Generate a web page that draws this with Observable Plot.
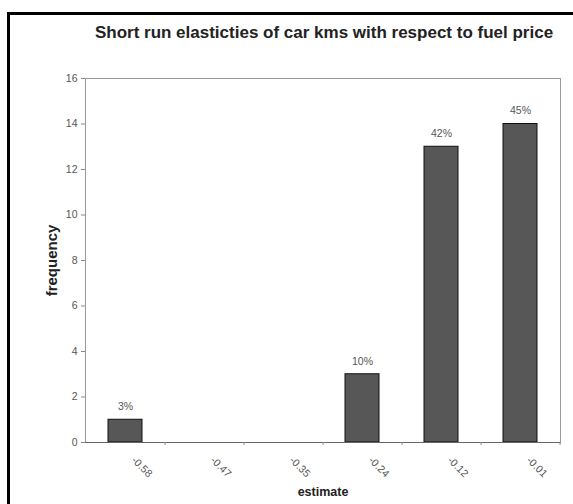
<!DOCTYPE html>
<html>
<head>
<meta charset="utf-8">
<script src="https://cdn.jsdelivr.net/npm/d3@7"></script>
<script src="https://cdn.jsdelivr.net/npm/@observablehq/plot@0.6"></script>
<style>
  html, body { margin: 0; padding: 0; background: #fff; }
  #wrap { position: relative; width: 573px; height: 504px; overflow: hidden; font-family: "Liberation Sans", Arial, sans-serif; }
  #border { position: absolute; left: 7px; top: 12px; width: 700px; height: 700px; border-top: 3px solid #000; border-left: 3px solid #000; box-sizing: border-box; }
  #title { position: absolute; left: 40px; width: 568px; top: 23px; text-align: center; font-size: 17px; font-weight: bold; color: #222; }
  #chart { position: absolute; left: 0; top: 0; }
</style>
</head>
<body>
<div id="wrap">
  <div id="border"></div>
  <div id="chart"></div>
  <div id="title">Short run elasticties of car kms with respect to fuel price</div>
</div>
<script>
const categories = ["-0.58", "-0.47", "-0.35", "-0.24", "-0.12", "-0.01"];
const frequency = [1, 0, 0, 3, 13, 14];
const shares = ["3%", "", "", "10%", "42%", "45%"];
const yTicks = [0, 2, 4, 6, 8, 10, 12, 14, 16];

const data = categories.map((c, i) => ({estimate: c, frequency: frequency[i], share: shares[i]}));

const W = 573, H = 504, mL = 85, mR = 13, mT = 78, mB = 62;
const step = (W - mL - mR) / categories.length;

const plot = Plot.plot({
  width: W,
  height: H,
  marginLeft: mL,
  marginRight: mR,
  marginTop: mT,
  marginBottom: mB,
  style: {fontFamily: "'Liberation Sans', Arial, sans-serif", fontSize: "10px", color: "#444", background: "transparent"},
  x: {domain: categories, paddingInner: 0.57, paddingOuter: 0.285, label: null},
  y: {domain: [0, 16], label: null},
  marks: [
    Plot.frame({stroke: "#999", strokeWidth: 1}),
    Plot.barY(data, {x: "estimate", y: "frequency", fill: "#575757", stroke: "#111", strokeWidth: 1}),
    Plot.ruleY([0], {stroke: "#666", strokeWidth: 1.2}),
    Plot.axisY({ticks: yTicks, tickSize: 4, tickPadding: 4, stroke: "#888", fill: "#555", fontSize: 10.5, label: null}),
    Plot.axisX({tickSize: 3, tickFormat: () => "", dx: step / 2, stroke: "#888", label: null}),
    Plot.axisX({tickSize: 0, tickRotate: 45, tickPadding: 16, dx: 8, fill: "#555", fontSize: 10.5, label: null}),
    Plot.text(data.filter(d => d.share), {x: "estimate", y: "frequency", text: "share", dy: -13, fill: "#555", fontSize: 10.5}),
    Plot.text(["frequency"], {frameAnchor: "left", textAnchor: "middle", dx: -33, rotate: -90, text: d => d, fontWeight: "bold", fontSize: 15, fill: "#222"}),
    Plot.text(["estimate"], {frameAnchor: "bottom", dy: 53, text: d => d, fontWeight: "bold", fontSize: 12.5, fill: "#222"})
  ]
});
document.getElementById("chart").appendChild(plot);
</script>
</body>
</html>
